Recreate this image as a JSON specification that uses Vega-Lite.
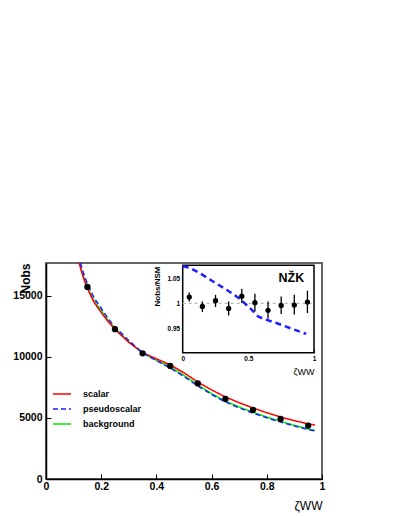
{
  "$schema": "https://vega.github.io/schema/vega-lite/v6.json",
  "autosize": {"type": "none"},
  "width": 276,
  "height": 216,
  "padding": {"left": 46, "top": 263, "right": 76, "bottom": 37},
  "background": "white",
  "config": {
    "view": {"stroke": "#333", "strokeWidth": 1.5},
    "font": "Liberation Sans",
    "axis": {"labelFont": "Liberation Sans", "titleFont": "Liberation Sans", "labelColor": "black", "titleColor": "black", "domainColor": "black", "tickColor": "black", "grid": false, "labelOverlap": false, "labelBound": false}
  },
  "datasets": {
    "curves": [
      {"series": "background", "x": 0.122, "y": 17700}, {"series": "background", "x": 0.13, "y": 17000}, {"series": "background", "x": 0.14, "y": 16300}, {"series": "background", "x": 0.15, "y": 15700}, {"series": "background", "x": 0.175, "y": 14550}, {"series": "background", "x": 0.2, "y": 13800}, {"series": "background", "x": 0.225, "y": 13000}, {"series": "background", "x": 0.25, "y": 12350}, {"series": "background", "x": 0.3, "y": 11250}, {"series": "background", "x": 0.35, "y": 10300}, {"series": "background", "x": 0.4, "y": 9730}, {"series": "background", "x": 0.45, "y": 9180}, {"series": "background", "x": 0.5, "y": 8480}, {"series": "background", "x": 0.55, "y": 7720}, {"series": "background", "x": 0.6, "y": 7000}, {"series": "background", "x": 0.65, "y": 6380}, {"series": "background", "x": 0.7, "y": 5900}, {"series": "background", "x": 0.75, "y": 5470}, {"series": "background", "x": 0.8, "y": 5080}, {"series": "background", "x": 0.85, "y": 4730}, {"series": "background", "x": 0.9, "y": 4400}, {"series": "background", "x": 0.95, "y": 4100}, {"series": "background", "x": 0.975, "y": 3980},
      {"series": "scalar", "x": 0.12, "y": 17700}, {"series": "scalar", "x": 0.13, "y": 16900}, {"series": "scalar", "x": 0.14, "y": 16200}, {"series": "scalar", "x": 0.15, "y": 15600}, {"series": "scalar", "x": 0.175, "y": 14450}, {"series": "scalar", "x": 0.2, "y": 13650}, {"series": "scalar", "x": 0.225, "y": 12900}, {"series": "scalar", "x": 0.25, "y": 12250}, {"series": "scalar", "x": 0.3, "y": 11200}, {"series": "scalar", "x": 0.35, "y": 10350}, {"series": "scalar", "x": 0.4, "y": 9850}, {"series": "scalar", "x": 0.45, "y": 9350}, {"series": "scalar", "x": 0.5, "y": 8700}, {"series": "scalar", "x": 0.55, "y": 7950}, {"series": "scalar", "x": 0.6, "y": 7300}, {"series": "scalar", "x": 0.65, "y": 6720}, {"series": "scalar", "x": 0.7, "y": 6250}, {"series": "scalar", "x": 0.75, "y": 5820}, {"series": "scalar", "x": 0.8, "y": 5430}, {"series": "scalar", "x": 0.85, "y": 5080}, {"series": "scalar", "x": 0.9, "y": 4780}, {"series": "scalar", "x": 0.95, "y": 4520}, {"series": "scalar", "x": 0.975, "y": 4420},
      {"series": "pseudoscalar", "x": 0.125, "y": 17700}, {"series": "pseudoscalar", "x": 0.13, "y": 17300}, {"series": "pseudoscalar", "x": 0.14, "y": 16600}, {"series": "pseudoscalar", "x": 0.15, "y": 16000}, {"series": "pseudoscalar", "x": 0.175, "y": 14800}, {"series": "pseudoscalar", "x": 0.2, "y": 14000}, {"series": "pseudoscalar", "x": 0.225, "y": 13150}, {"series": "pseudoscalar", "x": 0.25, "y": 12450}, {"series": "pseudoscalar", "x": 0.3, "y": 11350}, {"series": "pseudoscalar", "x": 0.35, "y": 10350}, {"series": "pseudoscalar", "x": 0.4, "y": 9700}, {"series": "pseudoscalar", "x": 0.45, "y": 9100}, {"series": "pseudoscalar", "x": 0.5, "y": 8400}, {"series": "pseudoscalar", "x": 0.55, "y": 7620}, {"series": "pseudoscalar", "x": 0.6, "y": 6930}, {"series": "pseudoscalar", "x": 0.65, "y": 6310}, {"series": "pseudoscalar", "x": 0.7, "y": 5830}, {"series": "pseudoscalar", "x": 0.75, "y": 5400}, {"series": "pseudoscalar", "x": 0.8, "y": 5020}, {"series": "pseudoscalar", "x": 0.85, "y": 4670}, {"series": "pseudoscalar", "x": 0.9, "y": 4340}, {"series": "pseudoscalar", "x": 0.95, "y": 4050}, {"series": "pseudoscalar", "x": 0.975, "y": 3930}
    ],
    "points": [
      {"x": 0.15, "y": 15740}, {"x": 0.25, "y": 12280}, {"x": 0.35, "y": 10300}, {"x": 0.45, "y": 9260}, {"x": 0.55, "y": 7830}, {"x": 0.65, "y": 6560}, {"x": 0.75, "y": 5660}, {"x": 0.85, "y": 4920}, {"x": 0.95, "y": 4380}
    ],
    "ratio": [
      {"x": 0.05, "r": 1.0124, "lo": 1.0039, "hi": 1.0216},
      {"x": 0.15, "r": 0.9941, "lo": 0.983, "hi": 1.0039},
      {"x": 0.25, "r": 1.0053, "lo": 0.993, "hi": 1.017},
      {"x": 0.35, "r": 0.990, "lo": 0.976, "hi": 1.004},
      {"x": 0.45, "r": 1.0143, "lo": 1.0006, "hi": 1.029},
      {"x": 0.55, "r": 1.0013, "lo": 0.984, "hi": 1.019},
      {"x": 0.65, "r": 0.9863, "lo": 0.970, "hi": 1.004},
      {"x": 0.75, "r": 0.996, "lo": 0.979, "hi": 1.0137},
      {"x": 0.85, "r": 0.9967, "lo": 0.978, "hi": 1.017},
      {"x": 0.95, "r": 1.0026, "lo": 0.981, "hi": 1.025}
    ],
    "pseudo": [
      {"x": 0.0, "r": 1.073}, {"x": 0.05, "r": 1.0705}, {"x": 0.131, "r": 1.0595}, {"x": 0.232, "r": 1.043}, {"x": 0.334, "r": 1.027}, {"x": 0.435, "r": 1.009}, {"x": 0.511, "r": 0.991}, {"x": 0.574, "r": 0.9745}, {"x": 0.612, "r": 0.970}, {"x": 0.713, "r": 0.9614}, {"x": 0.815, "r": 0.9516}, {"x": 0.941, "r": 0.940}
    ]
  },
  "layer": [
    {
      "layer": [
        {
          "data": {"name": "curves"},
          "mark": {"type": "line", "strokeWidth": 1.5},
          "encoding": {
            "x": {"field": "x", "type": "quantitative", "scale": {"domain": [0, 1], "nice": false},
              "axis": {"orient": "bottom", "title": "ζWW", "titleFontSize": 12, "titleFontWeight": "normal", "titleX": 276, "titleY": 30, "titleAlign": "right", "titleBaseline": "alphabetic",
                "values": [0, 0.05, 0.1, 0.15, 0.2, 0.25, 0.3, 0.35, 0.4, 0.45, 0.5, 0.55, 0.6, 0.65, 0.7, 0.75, 0.8, 0.85, 0.9, 0.95, 1],
                "format": "~g",
                "labelOpacity": {"condition": {"test": "abs(datum.value*5 - round(datum.value*5)) < 0.001", "value": 1}, "value": 0},
                "labelFontSize": 10.5, "labelFontWeight": "bold", "labelFlush": false, "labelPadding": 7,
                "domainWidth": 1.5, "tickWidth": 1,
                "tickSize": {"condition": {"test": "abs(datum.value*5 - round(datum.value*5)) < 0.001", "value": -5}, "value": -3}}},
            "y": {"field": "y", "type": "quantitative", "scale": {"domain": [0, 17700], "nice": false},
              "axis": {"orient": "left", "title": "Nobs", "titleFontSize": 12, "titleFontWeight": "bold", "titleAngle": -90, "titleX": -21, "titleY": 0, "titleAlign": "right", "titleBaseline": "middle",
                "values": [0, 2500, 5000, 7500, 10000, 12500, 15000, 17500],
                "format": "d",
                "labelOpacity": {"condition": {"test": "datum.value % 5000 == 0", "value": 1}, "value": 0},
                "labelFontSize": 10.5, "labelFontWeight": "bold", "labelPadding": 9,
                "domainWidth": 1.5, "tickWidth": 1,
                "tickSize": {"condition": {"test": "datum.value % 5000 == 0", "value": -5}, "value": -3}}},
            "color": {"field": "series", "type": "nominal", "sort": null,
              "scale": {"domain": ["scalar", "pseudoscalar", "background"], "range": ["#ff0000", "#1f1fff", "#00ee00"]},
              "legend": {"orient": "none", "legendX": 6, "legendY": 121, "title": null, "symbolType": "stroke", "symbolSize": 324, "symbolStrokeWidth": 1.5, "labelFont": "Liberation Sans", "labelFontSize": 9, "labelFontWeight": "bold", "labelOffset": 11, "rowPadding": -3}},
            "strokeDash": {"field": "series", "type": "nominal", "sort": null,
              "scale": {"domain": ["scalar", "pseudoscalar", "background"], "range": [[1, 0], [5, 3], [1, 0]]},
              "legend": {"orient": "none", "legendX": 6, "legendY": 121, "title": null, "symbolType": "stroke", "symbolSize": 324, "symbolStrokeWidth": 1.5, "labelFont": "Liberation Sans", "labelFontSize": 9, "labelFontWeight": "bold", "labelOffset": 11, "rowPadding": -3}}
          }
        },
        {
          "data": {"name": "points"},
          "mark": {"type": "circle", "size": 40, "color": "black", "opacity": 1},
          "encoding": {
            "x": {"field": "x", "type": "quantitative"},
            "y": {"field": "y", "type": "quantitative"}
          }
        }
      ]
    },
    {
      "layer": [
        {
          "data": {"values": [{}]},
          "mark": {"type": "rect", "fill": "white", "stroke": "black", "strokeWidth": 1.5},
          "encoding": {
            "x": {"datum": 0, "type": "quantitative", "scale": {"domain": [0, 1], "range": [136.7, 268], "nice": false},
              "axis": {"orient": "bottom", "offset": -126.3, "title": "ζWW", "titleFontSize": 9, "titleFontWeight": "normal", "titleX": 268, "titleY": 22, "titleAlign": "right", "titleBaseline": "alphabetic",
                "values": [0, 0.5, 1],
                "format": "~g",
                "labelFontSize": 6.5, "labelFontWeight": "bold", "labelFlush": false, "labelPadding": 7,
                "domain": false, "tickWidth": 1, "tickSize": -4}},
            "x2": {"datum": 1},
            "y": {"datum": 0.903, "type": "quantitative", "scale": {"domain": [0.903, 1.075], "range": [89.7, 2.3], "nice": false},
              "axis": {"orient": "left", "offset": -136.7, "title": "Nobs/NSM", "titleFontSize": 8, "titleFontWeight": "bold", "titleAngle": -90, "titleX": -25, "titleY": 3, "titleAlign": "right", "titleBaseline": "middle",
                "values": [0.95, 1, 1.05],
                "format": "~g",
                "labelFontSize": 6.5, "labelFontWeight": "bold", "labelPadding": 7,
                "domain": false, "tickWidth": 1, "tickSize": -4}},
            "y2": {"datum": 1.075}
          }
        },
        {
          "data": {"values": [{}]},
          "mark": {"type": "rule", "color": "#bbbbbb", "strokeDash": [3, 3], "strokeWidth": 1.2},
          "encoding": {
            "x": {"datum": 0, "type": "quantitative"},
            "x2": {"datum": 1},
            "y": {"datum": 1, "type": "quantitative"}
          }
        },
        {
          "data": {"name": "pseudo"},
          "mark": {"type": "line", "color": "#1f1fff", "strokeWidth": 2.5, "strokeDash": [6, 4]},
          "encoding": {
            "x": {"field": "x", "type": "quantitative"},
            "y": {"field": "r", "type": "quantitative"}
          }
        },
        {
          "data": {"name": "ratio"},
          "mark": {"type": "rule", "color": "black", "strokeWidth": 1.3},
          "encoding": {
            "x": {"field": "x", "type": "quantitative"},
            "y": {"field": "lo", "type": "quantitative"},
            "y2": {"field": "hi"}
          }
        },
        {
          "data": {"name": "ratio"},
          "mark": {"type": "circle", "size": 28, "color": "black", "opacity": 1},
          "encoding": {
            "x": {"field": "x", "type": "quantitative"},
            "y": {"field": "r", "type": "quantitative"}
          }
        },
        {
          "data": {"values": [{"label": "NŽK"}]},
          "mark": {"type": "text", "font": "Liberation Sans", "fontSize": 12.5, "fontWeight": "bold", "align": "center", "baseline": "alphabetic", "color": "black"},
          "encoding": {
            "x": {"datum": 0.828, "type": "quantitative"},
            "y": {"datum": 1.042, "type": "quantitative"},
            "text": {"field": "label"}
          }
        }
      ]
    }
  ],
  "resolve": {"scale": {"x": "independent", "y": "independent"}}
}
